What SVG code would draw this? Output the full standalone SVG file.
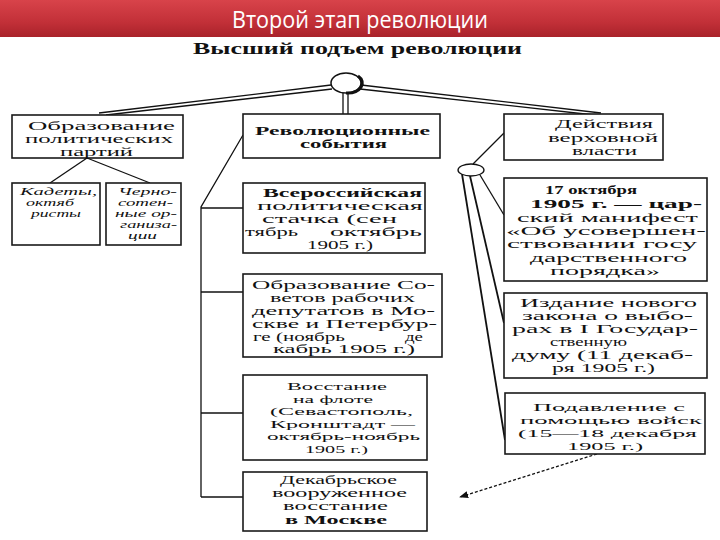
<svg xmlns="http://www.w3.org/2000/svg" width="720" height="540" viewBox="0 0 720 540">
<defs>
<linearGradient id="bar" x1="0" y1="0" x2="0" y2="1">
<stop offset="0" stop-color="#d8434a"/>
<stop offset="0.6" stop-color="#c23038"/>
<stop offset="1" stop-color="#a9222a"/>
</linearGradient>
<marker id="ah" viewBox="0 0 10 10" refX="9" refY="5" markerWidth="9" markerHeight="9" orient="auto" markerUnits="userSpaceOnUse">
<path d="M0,1 L10,5 L0,9 Z" fill="#111"/>
</marker>
<style>
.box{fill:#fff;stroke:#1a1a1a;stroke-width:1.6}
.t{font-family:"Liberation Serif","DejaVu Serif",serif;font-size:12px;fill:#111}
.s{font-size:11px}
.b{font-weight:bold}
.i{font-style:italic;font-size:10px}
.ln{stroke:#111;stroke-width:1.3;fill:none}
.title{font-family:"Open Sans","Liberation Sans",sans-serif;font-size:24px;fill:#fff}
.sub{font-family:"Liberation Serif",serif;font-size:16px;font-weight:bold;fill:#111}
</style>
</defs>
<rect x="0" y="0" width="720" height="37" fill="url(#bar)"/>
<text class="title" x="232" y="28" textLength="256" lengthAdjust="spacingAndGlyphs">Второй этап революции</text>
<text class="sub" x="193" y="54" textLength="329" lengthAdjust="spacingAndGlyphs">Высший подъем революции</text>

<g id="connectors">
<line class="ln" x1="331" y1="85" x2="99" y2="113"/>
<line class="ln" x1="332" y1="89" x2="106" y2="115"/>
<line class="ln" x1="361" y1="85" x2="601" y2="113"/>
<line class="ln" x1="360" y1="89" x2="594" y2="115"/>
<line class="ln" x1="343" y1="93" x2="343" y2="114"/>
<line class="ln" x1="348" y1="93" x2="348" y2="114"/>
<line class="ln" x1="87" y1="158" x2="50" y2="183"/>
<line class="ln" x1="87" y1="158" x2="150" y2="183"/>
<polyline class="ln" points="243,135 201,207 201,497"/>
<line class="ln" x1="201" y1="208" x2="243" y2="208"/>
<line class="ln" x1="201" y1="292" x2="243" y2="292"/>
<line class="ln" x1="201" y1="413" x2="243" y2="413"/>
<line class="ln" x1="201" y1="497" x2="243" y2="497"/>
<line class="ln" x1="473" y1="164" x2="504" y2="133"/>
<line class="ln" x1="480" y1="175" x2="504" y2="215"/>
<line class="ln" style="stroke-width:1.8" x1="470" y1="176" x2="504" y2="323"/>
<line class="ln" style="stroke-width:1.8" x1="462" y1="174" x2="505" y2="440"/>
<line class="ln" style="stroke-dasharray:3,2" x1="597" y1="454" x2="460" y2="497" marker-end="url(#ah)"/>
</g>

<g id="hub-top">
<ellipse cx="346" cy="83" rx="15" ry="10" fill="#fff" stroke="#111" stroke-width="1.5"/>
<path d="M358,76 A15,10 0 0 1 346,93" fill="none" stroke="#111" stroke-width="3"/>
</g>
<g id="hub-right">
<ellipse cx="471" cy="170" rx="13" ry="6" fill="#fff" stroke="#111" stroke-width="1.3"/>
</g>

<g id="parties">
<rect class="box" x="12" y="115" width="171" height="43"/>
<text class="t" x="28" y="130" textLength="147" lengthAdjust="spacingAndGlyphs">Образование</text>
<text class="t" x="25" y="143" textLength="148" lengthAdjust="spacingAndGlyphs">политических</text>
<text class="t" x="60" y="156" textLength="73" lengthAdjust="spacingAndGlyphs">партий</text>
</g>
<g id="kadety">
<rect class="box" x="12" y="183" width="88" height="62"/>
<text class="t i" x="20" y="195" textLength="77" lengthAdjust="spacingAndGlyphs">Кадеты,</text>
<text class="t i" x="26" y="206" textLength="48" lengthAdjust="spacingAndGlyphs">октяб</text>
<text class="t i" x="31" y="217" textLength="50" lengthAdjust="spacingAndGlyphs">ристы</text>
</g>
<g id="chernosotentsy">
<rect class="box" x="106" y="183" width="75" height="62"/>
<text class="t i" x="118" y="195" textLength="59" lengthAdjust="spacingAndGlyphs">Черно-</text>
<text class="t i" x="118" y="206" textLength="55" lengthAdjust="spacingAndGlyphs">сотен-</text>
<text class="t i" x="115" y="217" textLength="62" lengthAdjust="spacingAndGlyphs">ные ор-</text>
<text class="t i" x="120" y="228" textLength="57" lengthAdjust="spacingAndGlyphs">ганиза-</text>
<text class="t i" x="128" y="239" textLength="29" lengthAdjust="spacingAndGlyphs">ции</text>
</g>

<g id="rev-events">
<rect class="box" x="243" y="114" width="197" height="44"/>
<text class="t b" x="255" y="135" textLength="175" lengthAdjust="spacingAndGlyphs">Революционные</text>
<text class="t b" x="300" y="148" textLength="87" lengthAdjust="spacingAndGlyphs">события</text>
</g>
<g id="strike">
<rect class="box" x="243" y="183" width="182" height="70"/>
<text class="t b" x="263" y="197" textLength="159" lengthAdjust="spacingAndGlyphs">Всероссийская</text>
<text class="t" x="257" y="210" textLength="166" lengthAdjust="spacingAndGlyphs">политическая</text>
<text class="t" x="262" y="223" textLength="135" lengthAdjust="spacingAndGlyphs">стачка (сен</text>
<text class="t" x="245" y="236" textLength="53" lengthAdjust="spacingAndGlyphs">тябрь</text>
<text class="t" x="330" y="236" textLength="92" lengthAdjust="spacingAndGlyphs">октябрь</text>
<text class="t" x="307" y="249" textLength="66" lengthAdjust="spacingAndGlyphs">1905 г.)</text>
</g>
<g id="soviets">
<rect class="box" x="243" y="274" width="199" height="83"/>
<text class="t" x="252" y="289" textLength="183" lengthAdjust="spacingAndGlyphs">Образование Со-</text>
<text class="t" x="270" y="302" textLength="145" lengthAdjust="spacingAndGlyphs">ветов рабочих</text>
<text class="t" x="252" y="315" textLength="183" lengthAdjust="spacingAndGlyphs">депутатов в Мо-</text>
<text class="t" x="252" y="328" textLength="185" lengthAdjust="spacingAndGlyphs">скве и Петербур-</text>
<text class="t" x="253" y="341" textLength="92" lengthAdjust="spacingAndGlyphs">ге (ноябрь</text>
<text class="t" x="405" y="341" textLength="18" lengthAdjust="spacingAndGlyphs">де</text>
<text class="t" x="273" y="353" textLength="142" lengthAdjust="spacingAndGlyphs">кабрь 1905 г.)</text>
</g>
<g id="fleet">
<rect class="box" x="243" y="375" width="184" height="85"/>
<text class="t s" x="287" y="390" textLength="100" lengthAdjust="spacingAndGlyphs">Восстание</text>
<text class="t s" x="293" y="402.5" textLength="80" lengthAdjust="spacingAndGlyphs">на флоте</text>
<text class="t s" x="270" y="415" textLength="143" lengthAdjust="spacingAndGlyphs">(Севастополь,</text>
<text class="t s" x="270" y="427.5" textLength="145" lengthAdjust="spacingAndGlyphs">Кронштадт —</text>
<text class="t s" x="267" y="440" textLength="153" lengthAdjust="spacingAndGlyphs">октябрь-ноябрь</text>
<text class="t s" x="305" y="452.5" textLength="63" lengthAdjust="spacingAndGlyphs">1905 г.)</text>
</g>
<g id="december">
<rect class="box" x="243" y="472" width="184" height="59"/>
<text class="t" x="280" y="484" textLength="117" lengthAdjust="spacingAndGlyphs">Декабрьское</text>
<text class="t" x="272" y="497" textLength="135" lengthAdjust="spacingAndGlyphs">вооруженное</text>
<text class="t" x="283" y="510" textLength="105" lengthAdjust="spacingAndGlyphs">восстание</text>
<text class="t b" x="285" y="524" textLength="102" lengthAdjust="spacingAndGlyphs">в Москве</text>
</g>

<g id="authority">
<rect class="box" x="504" y="114" width="159" height="46"/>
<text class="t" x="555" y="128" textLength="98" lengthAdjust="spacingAndGlyphs">Действия</text>
<text class="t" x="548" y="142" textLength="110" lengthAdjust="spacingAndGlyphs">верховной</text>
<text class="t" x="572" y="155" textLength="65" lengthAdjust="spacingAndGlyphs">власти</text>
</g>
<g id="manifesto">
<rect class="box" x="504" y="178" width="203" height="103"/>
<text class="t b" x="545" y="194" textLength="92" lengthAdjust="spacingAndGlyphs">17 октября</text>
<text class="t b" x="530" y="208" textLength="172" lengthAdjust="spacingAndGlyphs">1905 г. — цар-</text>
<text class="t" x="517" y="222" textLength="181" lengthAdjust="spacingAndGlyphs">ский манифест</text>
<text class="t" x="506" y="235" textLength="200" lengthAdjust="spacingAndGlyphs">«Об усовершен-</text>
<text class="t" x="507" y="248" textLength="190" lengthAdjust="spacingAndGlyphs">ствовании госу</text>
<text class="t" x="530" y="262" textLength="157" lengthAdjust="spacingAndGlyphs">дарственного</text>
<text class="t" x="550" y="275" textLength="110" lengthAdjust="spacingAndGlyphs">порядка»</text>
</g>
<g id="election-law">
<rect class="box" x="504" y="293" width="203" height="85"/>
<text class="t" x="520" y="307" textLength="177" lengthAdjust="spacingAndGlyphs">Издание нового</text>
<text class="t" x="522" y="320" textLength="171" lengthAdjust="spacingAndGlyphs">закона о выбо-</text>
<text class="t" x="512" y="333" textLength="186" lengthAdjust="spacingAndGlyphs">рах в I Государ-</text>
<text class="t" x="550" y="346" textLength="77" lengthAdjust="spacingAndGlyphs">ственную</text>
<text class="t" x="512" y="359" textLength="181" lengthAdjust="spacingAndGlyphs">думу (11 декаб-</text>
<text class="t" x="552" y="372" textLength="103" lengthAdjust="spacingAndGlyphs">ря 1905 г.)</text>
</g>
<g id="suppression">
<rect class="box" x="505" y="393" width="200" height="61"/>
<text class="t s" x="533" y="411" textLength="152" lengthAdjust="spacingAndGlyphs">Подавление с</text>
<text class="t s" x="520" y="424" textLength="182" lengthAdjust="spacingAndGlyphs">помощью войск</text>
<text class="t s" x="518" y="437" textLength="179" lengthAdjust="spacingAndGlyphs">(15—18 декабря</text>
<text class="t s" x="567" y="450" textLength="76" lengthAdjust="spacingAndGlyphs">1905 г.)</text>
</g>
</svg>
